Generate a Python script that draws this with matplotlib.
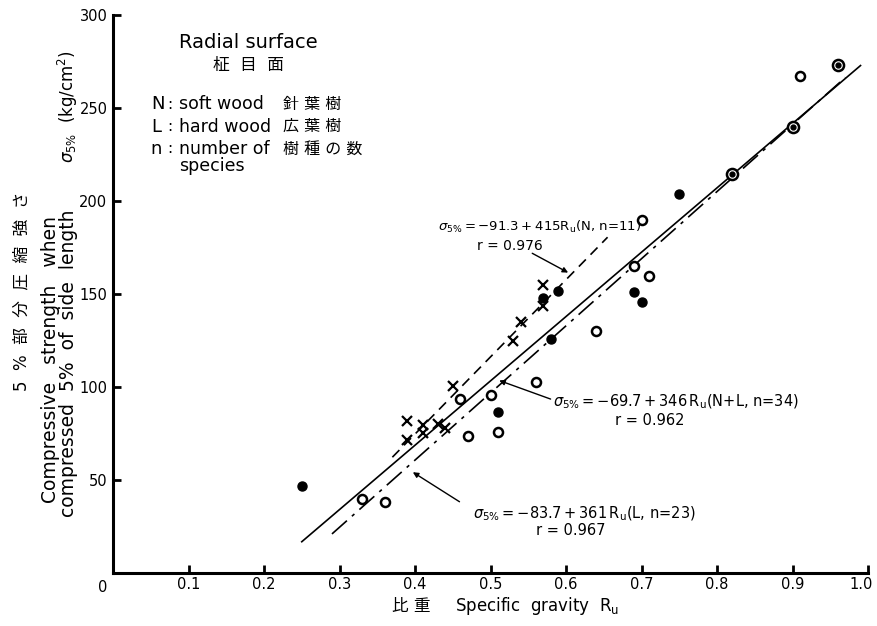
import numpy as np
import matplotlib.pyplot as plt
import matplotlib.transforms as mtrans

plt.rcParams['font.family'] = ['DejaVu Sans', 'Noto Sans CJK JP']
plt.rcParams['mathtext.fontset'] = 'dejavusans'

# softwood (x), hardwood (circles)
soft_x = [0.39, 0.39, 0.41, 0.41, 0.43, 0.44, 0.45, 0.53, 0.54, 0.57, 0.57]
soft_y = [81.7, 71.3, 79.7, 75.3, 80.3, 78.1, 100.5, 124.7, 135.0, 154.8, 143.5]

filled_x = [0.25, 0.51, 0.57, 0.58, 0.59, 0.69, 0.70, 0.75]
filled_y = [47.0, 86.6, 147.8, 126.0, 151.6, 150.9, 145.7, 204.0]

open_x = [0.33, 0.36, 0.46, 0.47, 0.50, 0.51, 0.56, 0.64, 0.69, 0.70, 0.71, 0.91]
open_y = [40.0, 38.3, 93.4, 73.8, 95.7, 75.8, 102.9, 130.0, 165.0, 190.0, 159.8, 267.0]

double_x = [0.82, 0.90, 0.96]
double_y = [214.5, 240.0, 273.0]

# regression lines: intercept, slope, x range
fit_N = (-91.3, 415, 0.37, 0.655)
fit_NL = (-69.7, 346, 0.25, 0.99)
fit_L = (-83.7, 361, 0.29, 0.97)

xticks = [0.1, 0.2, 0.3, 0.4, 0.5, 0.6, 0.7, 0.8, 0.9, 1.0]
xticklabels = ['0.1', '0.2', '0.3', '0.4', '0.5', '0.6', '0.7', '0.8', '0.9', '1.0']
yticks = [50, 100, 150, 200, 250, 300]

fig = plt.figure(figsize=(8.78, 6.26), dpi=100)
ax = fig.add_axes([0.1287, 0.0847, 0.86, 0.8913])
ax.set_xlim(0, 1.0)
ax.set_ylim(0, 300)

def fit_line(fit, **kw):
    a, b, x0, x1 = fit
    xs = np.array([x0, x1])
    ax.plot(xs, a + b * xs, color='black', lw=1.2, **kw)

fit_line(fit_N, dashes=(6, 4))
fit_line(fit_NL)
fit_line(fit_L, dashes=(12, 4, 2, 4))

ax.plot(soft_x, soft_y, 'x', color='black', ms=6.5, mew=1.6)
ax.plot(filled_x, filled_y, 'o', color='black', ms=6.5)
ax.plot(open_x, open_y, 'o', mfc='white', mec='black', ms=6.5, mew=1.8)
ax.plot(double_x, double_y, 'o', mfc='white', mec='black', ms=8, mew=1.8)
ax.plot(double_x, double_y, 'o', color='black', ms=3.5)

for s in ['top', 'right']:
    ax.spines[s].set_visible(False)
for s in ['left', 'bottom']:
    ax.spines[s].set_linewidth(2.2)

ax.set_xticks(xticks)
ax.set_xticklabels(xticklabels)
ax.set_yticks(yticks)
ax.tick_params(direction='in', length=6, width=2, labelsize=10.5)
ax.tick_params(axis='x', pad=3)
ax.tick_params(axis='y', pad=4)
last = ax.get_xticklabels()[-1]
last.set_transform(last.get_transform()
                   + mtrans.ScaledTranslation(-5 / 72, 0, fig.dpi_scale_trans))
ax.text(-0.013, -4, '0', fontsize=10.5, ha='center', va='top')

sig = r'$\sigma_{5\%}$'

ax.text(0.43, 186, sig + r'$=-91.3+415$R$_{\rm u}$(N, n=11)',
        fontsize=9.5, va='center')
ax.text(0.482, 176, 'r = 0.976', fontsize=10, va='center')
ax.annotate('', xy=(0.606, 160.8), xytext=(0.552, 172.6),
            arrowprops=dict(arrowstyle='-|>', color='black', lw=1, mutation_scale=8))

ax.text(0.583, 92, sig + r'$=-69.7+346\,$R$_{\rm u}$(N+L, n=34)',
        fontsize=10.5, va='center')
ax.text(0.665, 82, 'r = 0.962', fontsize=10.5, va='center')
ax.annotate('', xy=(0.508, 104), xytext=(0.583, 93),
            arrowprops=dict(arrowstyle='-|>', color='black', lw=1, mutation_scale=8))

ax.text(0.477, 32, sig + r'$=-83.7+361\,$R$_{\rm u}$(L, n=23)',
        fontsize=10.5, va='center')
ax.text(0.56, 23, 'r = 0.967', fontsize=10.5, va='center')
ax.annotate('', xy=(0.394, 55), xytext=(0.462, 37.5),
            arrowprops=dict(arrowstyle='-|>', color='black', lw=1, mutation_scale=8))

# legend block, top left
ax.text(0.087, 285, 'Radial surface', fontsize=14, ha='left', va='center')
ax.text(0.132, 273, '柾  目  面', fontsize=12, ha='left', va='center')
leg_rows = [('N', 'soft wood', '針 葉 樹', 252),
            ('L', 'hard wood', '広 葉 樹', 240),
            ('n', 'number of', '樹 種 の 数', 228)]
for key, eng, jp, yy in leg_rows:
    ax.text(0.05, yy, key, fontsize=13, va='center')
    ax.text(0.072, yy, ':', fontsize=11, va='center')
    ax.text(0.088, yy, eng, fontsize=12.5, va='center')
    ax.text(0.225, yy, jp, fontsize=11.5, va='center')
ax.text(0.088, 219, 'species', fontsize=12.5, va='center')

# axis labels
fig.text(0.447, 0.032, '比 重', fontsize=12, ha='left', va='center')
fig.text(0.518, 0.032, r'Specific  gravity  R$_{\rm u}$', fontsize=12, ha='left', va='center')

fig.text(0.024, 0.535, '5  %  部  分  圧  縮  強  さ', fontsize=12, rotation=90,
         ha='center', va='center')
fig.text(0.058, 0.425, 'Compressive   strength   when', fontsize=13.5, rotation=90,
         ha='center', va='center')
fig.text(0.078, 0.42, 'compressed  5%  of  side  length', fontsize=13.5, rotation=90,
         ha='center', va='center')
fig.text(0.077, 0.83, sig + r'  (kg/cm$^2$)', fontsize=12, rotation=90,
         ha='center', va='center')

fig.savefig('out.png', dpi=100)
